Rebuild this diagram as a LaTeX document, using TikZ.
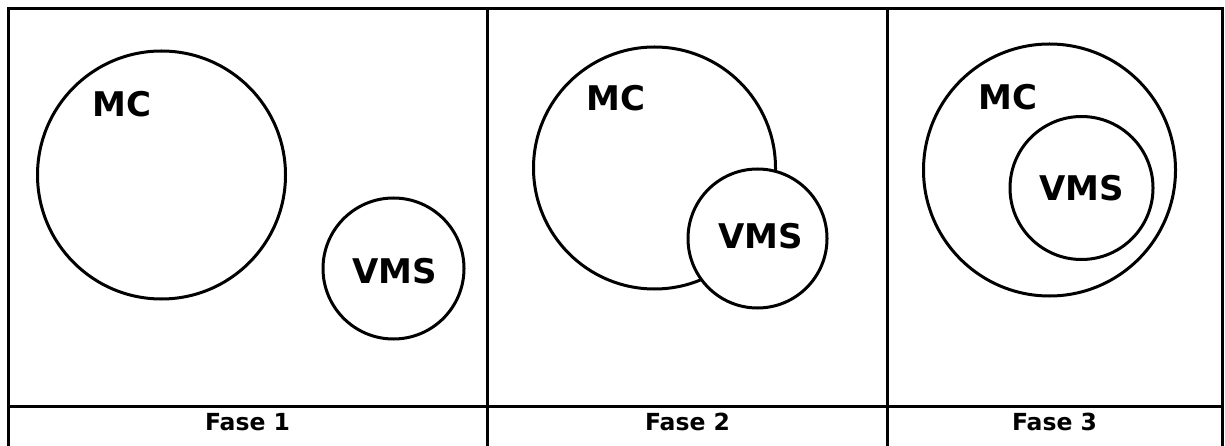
\documentclass[tikz,border=0pt]{standalone}
\usepackage{fontspec}
\setmainfont{DejaVu Sans}
\begin{document}
\begin{tikzpicture}[x=1pt,y=-1pt,
  rule/.style={line width=3pt,line cap=rect},
  set/.style={draw,line width=3pt,circle,inner sep=0pt,fill=white},
  setlabel/.style={font=\bfseries\fontsize{34}{34}\selectfont,anchor=base west,inner sep=0pt},
  phase/.style={font=\bfseries\fontsize{23.5}{23.5}\selectfont,anchor=base,inner sep=0pt}]
\useasboundingbox[fill=white] (0,0) rectangle (1225,446);

% table grid
\coordinate (tl) at (8,9);
\coordinate (tr) at (1222,9);
\coordinate (bl) at (8,446);
\coordinate (br) at (1222,446);
\coordinate (m1t) at (487,9);
\coordinate (m1b) at (487,446);
\coordinate (m2t) at (887,9);
\coordinate (m2b) at (887,446);
\coordinate (hl) at (8,406);
\coordinate (hr) at (1222,406);
\draw[rule] (bl) -- (tl) -- (tr) -- (br);
\draw[rule] (m1t) -- (m1b);
\draw[rule] (m2t) -- (m2b);
\draw[rule] (hl) -- (hr);

% phase 1: separate sets
\node[set,minimum size=248pt] (mc1) at (161.5,175) {};
\node[set,minimum size=141pt] (vms1) at (393.5,268.5) {};
\node[setlabel] (mc1t) at (92,117) {MC};
\node[setlabel] (vms1t) at (352,283) {VMS};

% phase 2: overlapping sets
\node[set,minimum size=242pt] (mc2) at (654.5,168) {};
\node[set,minimum size=139pt] (vms2) at (757.5,238.5) {};
\node[setlabel] (mc2t) at (586,111) {MC};
\node[setlabel] (vms2t) at (718,249) {VMS};

% phase 3: nested sets
\node[set,minimum size=252pt] (mc3) at (1049.5,170) {};
\node[set,minimum size=143pt] (vms3) at (1081.5,188) {};
\node[setlabel] (mc3t) at (978,110) {MC};
\node[setlabel] (vms3t) at (1039,201) {VMS};

% phase captions
\node[phase] (f1) at (247.5,430) {Fase 1};
\node[phase] (f2) at (687.5,430) {Fase 2};
\node[phase] (f3) at (1054.5,430) {Fase 3};
\end{tikzpicture}
\end{document}
